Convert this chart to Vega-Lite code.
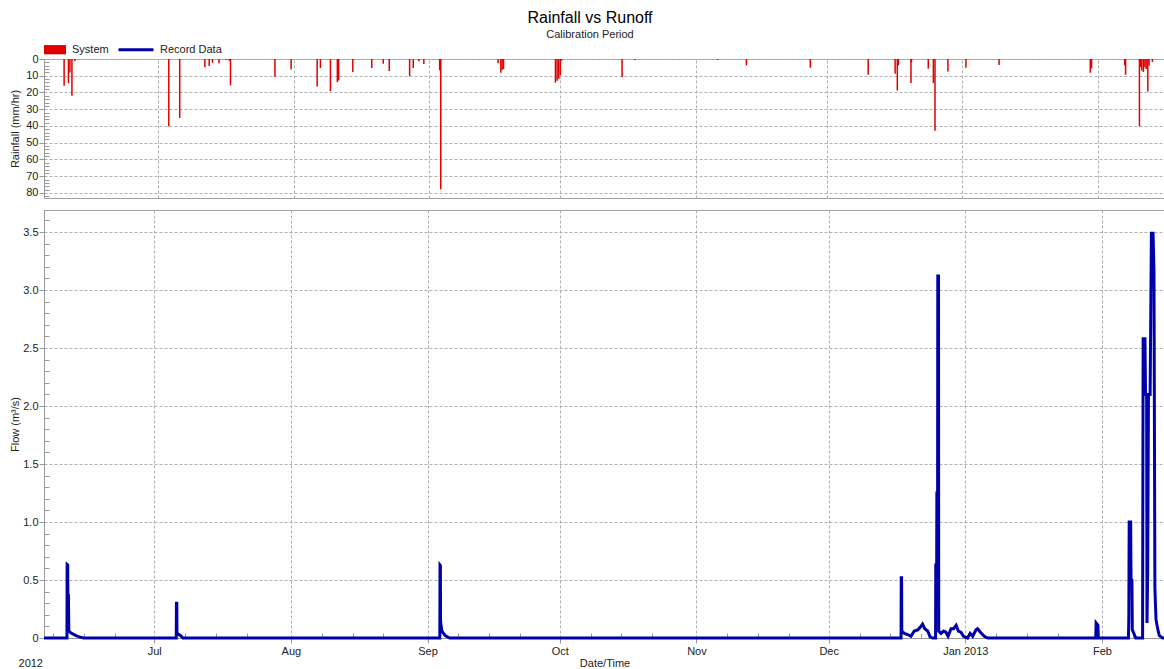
{
  "$schema": "https://vega.github.io/schema/vega-lite/v6.json",
  "padding": {"left": 8, "top": 9, "right": 0, "bottom": 0},
  "title": {"text": "Rainfall vs Runoff", "subtitle": "Calibration Period", "fontSize": 16, "fontWeight": "normal", "subtitleFontSize": 11, "anchor": "middle", "offset": -9.5, "subtitlePadding": 3, "color": "#000000", "subtitleColor": "#222222", "font": "Liberation Sans", "subtitleFont": "Liberation Sans"},
  "bounds": "flush",
  "spacing": 12,
  "config": {
    "font": "Liberation Sans",
    "view": {"stroke": "#a0a0a0"},
    "axis": {"labelFontSize": 11, "titleFontSize": 11, "titleFontWeight": "normal", "labelColor": "#222222", "titleColor": "#222222", "gridColor": "#b0b0b0", "gridDash": [3, 2], "domainColor": "#999999", "tickColor": "#999999", "labelFont": "Liberation Sans", "titleFont": "Liberation Sans"},
    "legend": {"labelFontSize": 11, "labelColor": "#222222", "labelFont": "Liberation Sans"}
  },
  "datasets": {
    "rain": [
      {"t": "2012-06-09T11:00", "rain": 16},
      {"t": "2012-06-10T11:00", "rain": 14.5},
      {"t": "2012-06-10T19:00", "rain": 8},
      {"t": "2012-06-11T06:00", "rain": 22},
      {"t": "2012-06-11T23:00", "rain": 1.2},
      {"t": "2012-07-03T10:00", "rain": 40.2},
      {"t": "2012-07-05T22:00", "rain": 35.2},
      {"t": "2012-07-11T16:00", "rain": 5},
      {"t": "2012-07-12T16:00", "rain": 4.2},
      {"t": "2012-07-13T10:00", "rain": 2.2},
      {"t": "2012-07-14T22:00", "rain": 2.6},
      {"t": "2012-07-16T14:00", "rain": 0.6},
      {"t": "2012-07-17T06:00", "rain": 1},
      {"t": "2012-07-17T13:00", "rain": 15.8},
      {"t": "2012-07-27T17:00", "rain": 10.6},
      {"t": "2012-07-31T10:00", "rain": 6.2},
      {"t": "2012-08-06T09:00", "rain": 16.4},
      {"t": "2012-08-07T03:00", "rain": 5.4},
      {"t": "2012-08-09T10:00", "rain": 19.2},
      {"t": "2012-08-11T00:00", "rain": 13.8},
      {"t": "2012-08-11T07:00", "rain": 12.8},
      {"t": "2012-08-14T13:00", "rain": 7.8},
      {"t": "2012-08-18T21:00", "rain": 5.4},
      {"t": "2012-08-21T12:00", "rain": 2.8},
      {"t": "2012-08-22T21:00", "rain": 7.2},
      {"t": "2012-08-27T13:00", "rain": 10.2},
      {"t": "2012-08-28T09:00", "rain": 5.4},
      {"t": "2012-08-29T16:00", "rain": 1.4},
      {"t": "2012-08-30T19:00", "rain": 3},
      {"t": "2012-09-03T10:00", "rain": 6.8},
      {"t": "2012-09-03T16:00", "rain": 77.8},
      {"t": "2012-09-16T19:00", "rain": 2.6},
      {"t": "2012-09-17T10:00", "rain": 8.2},
      {"t": "2012-09-17T17:00", "rain": 6.6},
      {"t": "2012-09-18T01:00", "rain": 6},
      {"t": "2012-09-29T22:00", "rain": 14.2},
      {"t": "2012-09-30T07:00", "rain": 13},
      {"t": "2012-09-30T16:00", "rain": 11.8},
      {"t": "2012-10-01T01:00", "rain": 9.8},
      {"t": "2012-10-01T08:00", "rain": 1},
      {"t": "2012-10-15T04:00", "rain": 10.8},
      {"t": "2012-10-18T03:00", "rain": 0.6},
      {"t": "2012-11-06T01:00", "rain": 0.6},
      {"t": "2012-11-12T15:00", "rain": 3.8},
      {"t": "2012-11-27T06:00", "rain": 5.2},
      {"t": "2012-12-10T12:00", "rain": 9.4},
      {"t": "2012-12-16T16:00", "rain": 8.8},
      {"t": "2012-12-17T04:00", "rain": 18.8},
      {"t": "2012-12-17T10:00", "rain": 3.8},
      {"t": "2012-12-20T07:00", "rain": 14.4},
      {"t": "2012-12-20T10:00", "rain": 2},
      {"t": "2012-12-24T06:00", "rain": 5.8},
      {"t": "2012-12-25T10:00", "rain": 14.4},
      {"t": "2012-12-25T19:00", "rain": 42.8},
      {"t": "2012-12-28T18:00", "rain": 7.4},
      {"t": "2013-01-01T21:00", "rain": 5.2},
      {"t": "2013-01-09T11:00", "rain": 3.6},
      {"t": "2013-01-30T08:00", "rain": 8.2},
      {"t": "2013-01-30T15:00", "rain": 5.6},
      {"t": "2013-02-07T05:00", "rain": 3.8},
      {"t": "2013-02-07T10:00", "rain": 9.4},
      {"t": "2013-02-10T14:00", "rain": 40.2},
      {"t": "2013-02-10T20:00", "rain": 4.8},
      {"t": "2013-02-11T03:00", "rain": 6.8},
      {"t": "2013-02-11T12:00", "rain": 7.8},
      {"t": "2013-02-11T20:00", "rain": 5},
      {"t": "2013-02-12T03:00", "rain": 6},
      {"t": "2013-02-12T12:00", "rain": 19.4},
      {"t": "2013-02-12T19:00", "rain": 4},
      {"t": "2013-02-13T13:00", "rain": 1.8}
    ],
    "flow": [
      {"t": "2012-06-06T00:00", "flow": 0},
      {"t": "2012-06-11T05:00", "flow": 0},
      {"t": "2012-06-11T06:00", "flow": 0.634},
      {"t": "2012-06-11T09:00", "flow": 0.63},
      {"t": "2012-06-11T10:00", "flow": 0.377},
      {"t": "2012-06-11T13:00", "flow": 0.37},
      {"t": "2012-06-11T15:00", "flow": 0.06},
      {"t": "2012-06-12T06:00", "flow": 0.04},
      {"t": "2012-06-13T06:00", "flow": 0.02},
      {"t": "2012-06-14T00:00", "flow": 0.01},
      {"t": "2012-06-15T00:00", "flow": 0},
      {"t": "2012-07-06T00:00", "flow": 0},
      {"t": "2012-07-06T01:00", "flow": 0.3},
      {"t": "2012-07-06T03:00", "flow": 0.3},
      {"t": "2012-07-06T04:00", "flow": 0.04},
      {"t": "2012-07-07T00:00", "flow": 0.02},
      {"t": "2012-07-07T12:00", "flow": 0},
      {"t": "2012-09-03T19:00", "flow": 0},
      {"t": "2012-09-03T20:00", "flow": 0.629},
      {"t": "2012-09-03T22:00", "flow": 0.625},
      {"t": "2012-09-03T23:00", "flow": 0.14},
      {"t": "2012-09-04T06:00", "flow": 0.06},
      {"t": "2012-09-05T00:00", "flow": 0.02},
      {"t": "2012-09-06T00:00", "flow": 0},
      {"t": "2012-12-17T10:00", "flow": 0},
      {"t": "2012-12-17T11:00", "flow": 0.52},
      {"t": "2012-12-17T13:00", "flow": 0.52},
      {"t": "2012-12-17T14:00", "flow": 0.06},
      {"t": "2012-12-18T04:00", "flow": 0.04},
      {"t": "2012-12-18T22:00", "flow": 0.03},
      {"t": "2012-12-19T16:00", "flow": 0.015},
      {"t": "2012-12-20T10:00", "flow": 0.06},
      {"t": "2012-12-21T05:00", "flow": 0.07},
      {"t": "2012-12-21T17:00", "flow": 0.09},
      {"t": "2012-12-22T07:00", "flow": 0.12},
      {"t": "2012-12-22T19:00", "flow": 0.08},
      {"t": "2012-12-23T11:00", "flow": 0.06},
      {"t": "2012-12-24T00:00", "flow": 0.01},
      {"t": "2012-12-24T14:00", "flow": 0},
      {"t": "2012-12-25T06:00", "flow": 0},
      {"t": "2012-12-25T07:00", "flow": 0.63},
      {"t": "2012-12-25T12:00", "flow": 0.63},
      {"t": "2012-12-25T13:00", "flow": 1.25},
      {"t": "2012-12-25T17:00", "flow": 1.25},
      {"t": "2012-12-25T18:00", "flow": 3.12},
      {"t": "2012-12-25T22:00", "flow": 3.12},
      {"t": "2012-12-25T23:00", "flow": 0.06},
      {"t": "2012-12-26T11:00", "flow": 0.04},
      {"t": "2012-12-27T02:00", "flow": 0.06},
      {"t": "2012-12-27T14:00", "flow": 0.05},
      {"t": "2012-12-28T02:00", "flow": 0.015},
      {"t": "2012-12-28T18:00", "flow": 0.08},
      {"t": "2012-12-29T08:00", "flow": 0.08},
      {"t": "2012-12-29T22:00", "flow": 0.11},
      {"t": "2012-12-30T10:00", "flow": 0.06},
      {"t": "2012-12-31T00:00", "flow": 0.05},
      {"t": "2012-12-31T14:00", "flow": 0.015},
      {"t": "2013-01-01T12:00", "flow": 0},
      {"t": "2013-01-02T02:00", "flow": 0.04},
      {"t": "2013-01-02T16:00", "flow": 0.015},
      {"t": "2013-01-03T10:00", "flow": 0.07},
      {"t": "2013-01-03T19:00", "flow": 0.08},
      {"t": "2013-01-04T10:00", "flow": 0.05},
      {"t": "2013-01-05T07:00", "flow": 0.015},
      {"t": "2013-01-06T02:00", "flow": 0},
      {"t": "2013-01-30T14:00", "flow": 0},
      {"t": "2013-01-30T16:00", "flow": 0.13},
      {"t": "2013-01-31T02:00", "flow": 0.11},
      {"t": "2013-01-31T04:00", "flow": 0},
      {"t": "2013-02-07T00:00", "flow": 0},
      {"t": "2013-02-07T02:00", "flow": 0.17},
      {"t": "2013-02-07T04:00", "flow": 1.0},
      {"t": "2013-02-07T12:00", "flow": 1.0},
      {"t": "2013-02-07T14:00", "flow": 0.51},
      {"t": "2013-02-07T19:00", "flow": 0.5},
      {"t": "2013-02-07T21:00", "flow": 0.07},
      {"t": "2013-02-08T08:00", "flow": 0.03},
      {"t": "2013-02-08T16:00", "flow": 0},
      {"t": "2013-02-10T05:00", "flow": 0},
      {"t": "2013-02-10T08:00", "flow": 2.58},
      {"t": "2013-02-10T18:00", "flow": 2.58},
      {"t": "2013-02-10T21:00", "flow": 2.1},
      {"t": "2013-02-11T03:00", "flow": 2.1},
      {"t": "2013-02-11T05:00", "flow": 0.13},
      {"t": "2013-02-11T09:00", "flow": 0.6},
      {"t": "2013-02-11T13:00", "flow": 2.1},
      {"t": "2013-02-11T22:00", "flow": 2.1},
      {"t": "2013-02-12T05:00", "flow": 3.49},
      {"t": "2013-02-12T14:00", "flow": 3.49},
      {"t": "2013-02-12T19:00", "flow": 3.17},
      {"t": "2013-02-13T00:00", "flow": 0.43},
      {"t": "2013-02-13T06:00", "flow": 0.16},
      {"t": "2013-02-13T15:00", "flow": 0.08},
      {"t": "2013-02-14T00:00", "flow": 0.02},
      {"t": "2013-02-14T18:00", "flow": 0},
      {"t": "2013-02-15T07:00", "flow": 0}
    ],
    "year": [
      {"t": "2012-06-06T00:00", "flow": 0, "label": "2012"}
    ]
  },
  "vconcat": [
    {
      "width": 1121,
      "height": 139,
      "data": {"name": "rain"},
      "mark": {"type": "bar", "width": 1.5},
      "encoding": {
        "x": {
          "field": "t", "type": "temporal",
          "scale": {"domain": [{"year": 2012, "month": 6, "date": 6}, {"year": 2013, "month": 2, "date": 15, "hours": 7}]},
          "axis": {
            "values": [
              {"year": 2012, "month": 7, "date": 1}, {"year": 2012, "month": 8, "date": 1}, {"year": 2012, "month": 9, "date": 1},
              {"year": 2012, "month": 10, "date": 1}, {"year": 2012, "month": 11, "date": 1}, {"year": 2012, "month": 12, "date": 1},
              {"year": 2013, "month": 1, "date": 1}, {"year": 2013, "month": 2, "date": 1}
            ],
            "labels": false, "ticks": false, "domain": false, "title": null, "grid": true
          }
        },
        "y": {
          "field": "rain", "type": "quantitative",
          "scale": {"domain": [0, 83], "reverse": true, "nice": false, "zero": true},
          "axis": {
            "values": [0, 2, 4, 6, 8, 10, 12, 14, 16, 18, 20, 22, 24, 26, 28, 30, 32, 34, 36, 38, 40, 42, 44, 46, 48, 50, 52, 54, 56, 58, 60, 62, 64, 66, 68, 70, 72, 74, 76, 78, 80, 82],
            "labelExpr": "datum.value % 10 == 0 ? datum.label : ''",
            "tickSize": {"condition": {"test": "datum.value % 10 == 0", "value": 5}, "value": -5},
            "gridOpacity": {"condition": {"test": "datum.value % 10 == 0", "value": 1}, "value": 0},
            "labelPadding": 1,
            "labelOverlap": false,
            "labelFlush": false,
            "minExtent": 20, "maxExtent": 20,
            "titlePadding": 4,
            "title": "Rainfall (mm/hr)"
          }
        },
        "fill": {
          "datum": "System",
          "scale": {"domain": ["System"], "range": ["#e00000"]},
          "legend": {"orient": "none", "legendX": 0, "legendY": -20.3, "title": null, "symbolType": "M-1,-0.42H1V0.42H-1Z", "symbolSize": 484, "symbolStrokeWidth": 0, "labelOffset": 6}
        }
      }
    },
    {
      "width": 1121,
      "height": 428,
      "encoding": {
        "x": {
          "field": "t", "type": "temporal",
          "scale": {"domain": [{"year": 2012, "month": 6, "date": 6}, {"year": 2013, "month": 2, "date": 15, "hours": 7}]},
          "axis": {
            "values": [
              {"year": 2012, "month": 6, "date": 8}, {"year": 2012, "month": 6, "date": 15}, {"year": 2012, "month": 6, "date": 22},
              {"year": 2012, "month": 7, "date": 1}, {"year": 2012, "month": 7, "date": 8}, {"year": 2012, "month": 7, "date": 15}, {"year": 2012, "month": 7, "date": 22},
              {"year": 2012, "month": 8, "date": 1}, {"year": 2012, "month": 8, "date": 8}, {"year": 2012, "month": 8, "date": 15}, {"year": 2012, "month": 8, "date": 22},
              {"year": 2012, "month": 9, "date": 1}, {"year": 2012, "month": 9, "date": 8}, {"year": 2012, "month": 9, "date": 15}, {"year": 2012, "month": 9, "date": 22},
              {"year": 2012, "month": 10, "date": 1}, {"year": 2012, "month": 10, "date": 8}, {"year": 2012, "month": 10, "date": 15}, {"year": 2012, "month": 10, "date": 22},
              {"year": 2012, "month": 11, "date": 1}, {"year": 2012, "month": 11, "date": 8}, {"year": 2012, "month": 11, "date": 15}, {"year": 2012, "month": 11, "date": 22},
              {"year": 2012, "month": 12, "date": 1}, {"year": 2012, "month": 12, "date": 8}, {"year": 2012, "month": 12, "date": 15}, {"year": 2012, "month": 12, "date": 22},
              {"year": 2013, "month": 1, "date": 1}, {"year": 2013, "month": 1, "date": 8}, {"year": 2013, "month": 1, "date": 15}, {"year": 2013, "month": 1, "date": 22},
              {"year": 2013, "month": 2, "date": 1}, {"year": 2013, "month": 2, "date": 8}, {"year": 2013, "month": 2, "date": 15}
            ],
            "labelExpr": "date(datum.value) == 1 ? (month(datum.value) == 0 ? timeFormat(datum.value, '%b %Y') : timeFormat(datum.value, '%b')) : ''",
            "tickSize": {"condition": {"test": "date(datum.value) == 1", "value": 5}, "value": -5},
            "gridOpacity": {"condition": {"test": "date(datum.value) == 1", "value": 1}, "value": 0},
            "labelPadding": 2,
            "labelOverlap": false,
            "labelFlush": false,
            "minExtent": 18, "maxExtent": 18,
            "titlePadding": 1,
            "title": "Date/Time"
          }
        },
        "y": {
          "field": "flow", "type": "quantitative",
          "scale": {"domain": [0, 3.69], "nice": false},
          "axis": {
            "values": [0, 0.1, 0.2, 0.3, 0.4, 0.5, 0.6, 0.7, 0.8, 0.9, 1.0, 1.1, 1.2, 1.3, 1.4, 1.5, 1.6, 1.7, 1.8, 1.9, 2.0, 2.1, 2.2, 2.3, 2.4, 2.5, 2.6, 2.7, 2.8, 2.9, 3.0, 3.1, 3.2, 3.3, 3.4, 3.5, 3.6],
            "labelExpr": "round(datum.value * 10) % 5 == 0 ? (datum.value == 0 ? '0' : format(datum.value, '.1f')) : ''",
            "tickSize": {"condition": {"test": "round(datum.value * 10) % 5 == 0", "value": 5}, "value": -5},
            "gridOpacity": {"condition": {"test": "round(datum.value * 10) % 5 == 0 && datum.value > 0", "value": 1}, "value": 0},
            "labelPadding": 1,
            "labelOverlap": false,
            "labelFlush": false,
            "minExtent": 20, "maxExtent": 20,
            "titlePadding": 4,
            "title": "Flow (m³/s)"
          }
        }
      },
      "layer": [
        {
          "data": {"name": "flow"},
          "mark": {"type": "line", "strokeWidth": 3, "strokeJoin": "miter"},
          "encoding": {
            "stroke": {
              "datum": "Record Data",
              "scale": {"domain": ["Record Data"], "range": ["#0000aa"]},
              "legend": {"orient": "none", "legendX": 73, "legendY": -179.3, "title": null, "symbolType": "stroke", "symbolSize": 1225, "symbolStrokeWidth": 3, "labelOffset": 5}
            }
          }
        },
        {
          "data": {"name": "year"},
          "mark": {"type": "text", "align": "right", "baseline": "middle", "dy": 26, "dx": -1, "fontSize": 11, "color": "#222222", "font": "Liberation Sans"},
          "encoding": {
            "text": {"field": "label"}
          }
        }
      ]
    }
  ],
  "resolve": {"legend": {"fill": "independent", "stroke": "independent"}}
}
